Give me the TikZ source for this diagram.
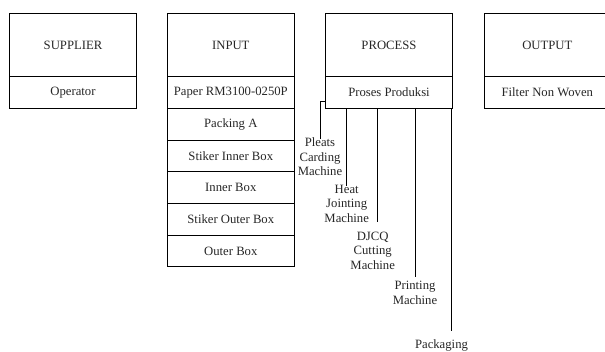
\documentclass[tikz,border=0pt]{standalone}
\usepackage{fontspec}
\setmainfont{Liberation Serif}
\begin{document}
\begin{tikzpicture}[x=1pt,y=-1pt,
  every node/.style={font=\fontsize{12.7}{14.5}\selectfont, text=black!85},
  head/.style={draw=black, line width=0.9pt, minimum width=126.7pt, minimum height=63.3pt, inner sep=0pt},
  row/.style={draw=black, line width=0.9pt, minimum width=126.7pt, minimum height=31.7pt, inner sep=0pt},
  lbl/.style={align=center, inner sep=0pt},
  conn/.style={draw=black, line width=0.9pt}]
\useasboundingbox (0,0) rectangle (605,351);
\clip (0,0) rectangle (605,351);
% SUPPLIER
\node[head] (suphead) at (73,45) {SUPPLIER};
\node[row] (sup1) at (73,92.5) {Operator};
% INPUT
\node[head] (inhead) at (230.8,45) {INPUT};
\node[row] (in1) at (230.8,92.5) {Paper RM3100-0250P};
\node[row] (in2) at (230.8,124.2) {Packing A};
\node[row] (in3) at (230.8,155.9) {Stiker Inner Box};
\node[row] (in4) at (230.8,187.6) {Inner Box};
\node[row] (in5) at (230.8,219.3) {Stiker Outer Box};
\node[row] (in6) at (230.8,251) {Outer Box};
% PROCESS
\node[head] (prochead) at (389,45) {PROCESS};
\node[row] (proc1) at (389,92.5) {Proses Produksi};
% OUTPUT
\node[head] (outhead) at (547.3,45) {OUTPUT};
\node[row] (out1) at (547.3,92.5) {Filter Non Woven};
% connector ends
\coordinate (e1) at (320.7,139.3);
\coordinate (e2) at (346.7,186);
\coordinate (e3) at (377.3,221.7);
\coordinate (e4) at (415,276.7);
\coordinate (e5) at (451.9,330.5);
\draw[conn] ([yshift=7.6pt]proc1.south west) -| (e1);
\draw[conn] (e2 |- proc1.south) -- (e2);
\draw[conn] (e3 |- proc1.south) -- (e3);
\draw[conn] (e4 |- proc1.south) -- (e4);
\draw[conn] (e5 |- proc1.south) -- (e5);
% labels
\node[lbl] (l1) at (320,156.7) {Pleats\\Carding\\Machine};
\node[lbl] (l2) at (346.7,203.5) {Heat\\Jointing\\Machine};
\node[lbl] (l3) at (372.7,250.7) {DJCQ\\Cutting\\Machine};
\node[lbl] (l4) at (415,292.8) {Printing\\Machine};
\node[lbl] (l5) at (441.5,345.5) {Packaging};
\end{tikzpicture}
\end{document}
